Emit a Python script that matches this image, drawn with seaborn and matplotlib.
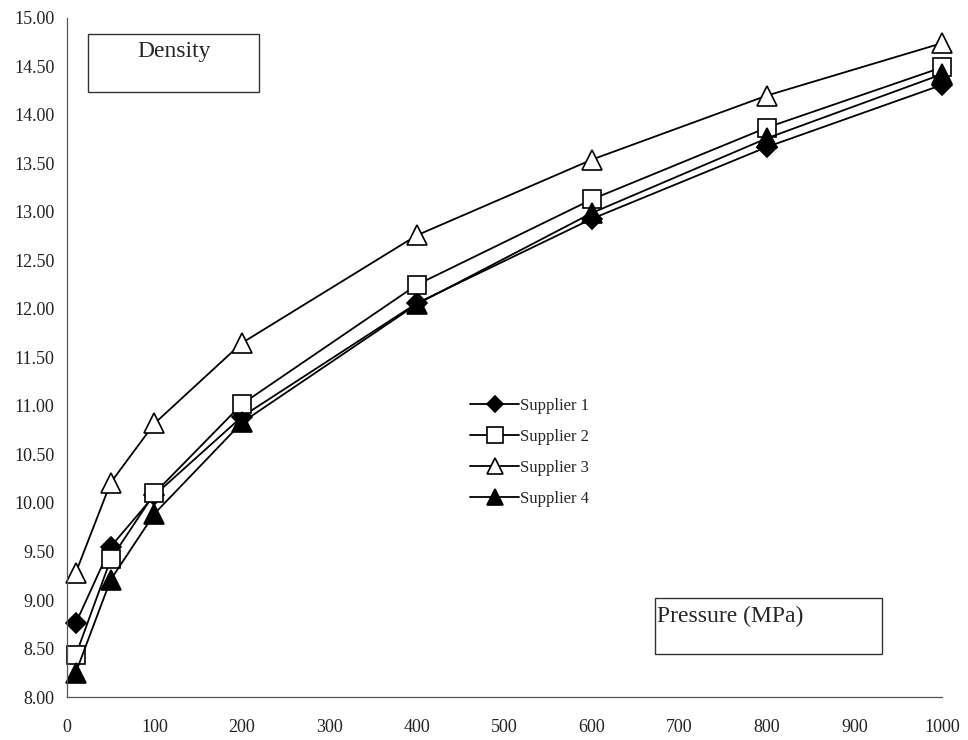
import matplotlib
matplotlib.use("Agg")
import matplotlib.pyplot as plt
import seaborn as sns
import pandas as pd
from matplotlib.patches import Rectangle

pressure = [10, 50, 100, 200, 400, 600, 800, 1000]
supplier1 = [8.76, 9.55, 10.08, 10.89, 12.06, 12.93, 13.67, 14.31]
supplier2 = [8.43, 9.42, 10.10, 11.02, 12.25, 13.13, 13.87, 14.49]
supplier3 = [9.28, 10.21, 10.82, 11.65, 12.76, 13.54, 14.20, 14.74]
supplier4 = [8.25, 9.21, 9.89, 10.83, 12.05, 12.99, 13.76, 14.42]
names = ["Supplier 1", "Supplier 2", "Supplier 3", "Supplier 4"]
xticks = [0, 100, 200, 300, 400, 500, 600, 700, 800, 900, 1000]
yticks = [8.0, 8.5, 9.0, 9.5, 10.0, 10.5, 11.0, 11.5, 12.0, 12.5, 13.0, 13.5, 14.0, 14.5, 15.0]

series = [supplier1, supplier2, supplier3, supplier4]
df = pd.concat([pd.DataFrame({"Pressure": pressure, "Density": s, "Supplier": n})
                for s, n in zip(series, names)], ignore_index=True)

sns.set_theme(style="white")
plt.rcParams["font.family"] = ["Liberation Serif", "DejaVu Serif"]

fig = plt.figure(figsize=(9.68, 7.4), dpi=100)
ax = fig.add_axes([0.0692, 0.0581, 0.9038, 0.9176])

styles = {
    "Supplier 1": dict(marker="D", mfc="black", ms=10),
    "Supplier 2": dict(marker="s", mfc="white", ms=13),
    "Supplier 3": dict(marker="^", mfc="white", ms=14),
    "Supplier 4": dict(marker="^", mfc="black", ms=14),
}
for n in names:
    st = styles[n]
    sns.lineplot(data=df[df["Supplier"] == n], x="Pressure", y="Density", ax=ax,
                 color="black", linewidth=1.3, marker=st["marker"],
                 markerfacecolor=st["mfc"], markeredgecolor="black",
                 markeredgewidth=1.2, markersize=st["ms"], label=n)
for line in ax.get_lines():
    line.set_clip_on(False)

ax.set_xlim(0, 1000)
ax.set_ylim(8.0, 15.0)
ax.set_xticks(xticks)
ax.set_xticklabels([str(t) for t in xticks])
ax.set_yticks(yticks)
ax.set_yticklabels([f"{t:.2f}" for t in yticks])
ax.tick_params(axis="both", labelsize=13, length=0, colors="#222222")
ax.tick_params(axis="x", pad=16)
ax.tick_params(axis="y", pad=9)
ax.set_xlabel("")
ax.set_ylabel("")
for side in ["top", "right"]:
    ax.spines[side].set_visible(False)
for side in ["left", "bottom"]:
    ax.spines[side].set_color("#555555")
    ax.spines[side].set_linewidth(0.9)

leg = ax.legend(loc="upper left", bbox_to_anchor=(0.444, 0.462), frameon=False,
                fontsize=12, handlelength=2.9, handletextpad=0.1, labelspacing=0.9,
                markerscale=0.85)

# Text boxes
fig.patches.append(Rectangle((88 / 968, 1 - 92 / 740), 171 / 968, 58 / 740,
                             transform=fig.transFigure, fill=False,
                             edgecolor="#333333", linewidth=1.0))
fig.text(174 / 968, 1 - 52 / 740, "Density", ha="center", va="center", fontsize=17)

fig.patches.append(Rectangle((655 / 968, 1 - 654 / 740), 227 / 968, 56 / 740,
                             transform=fig.transFigure, fill=False,
                             edgecolor="#333333", linewidth=1.0))
fig.text(657 / 968, 1 - 616 / 740, "Pressure (MPa)", ha="left", va="center", fontsize=17)

fig.savefig("out.png", dpi=100, facecolor="white")
